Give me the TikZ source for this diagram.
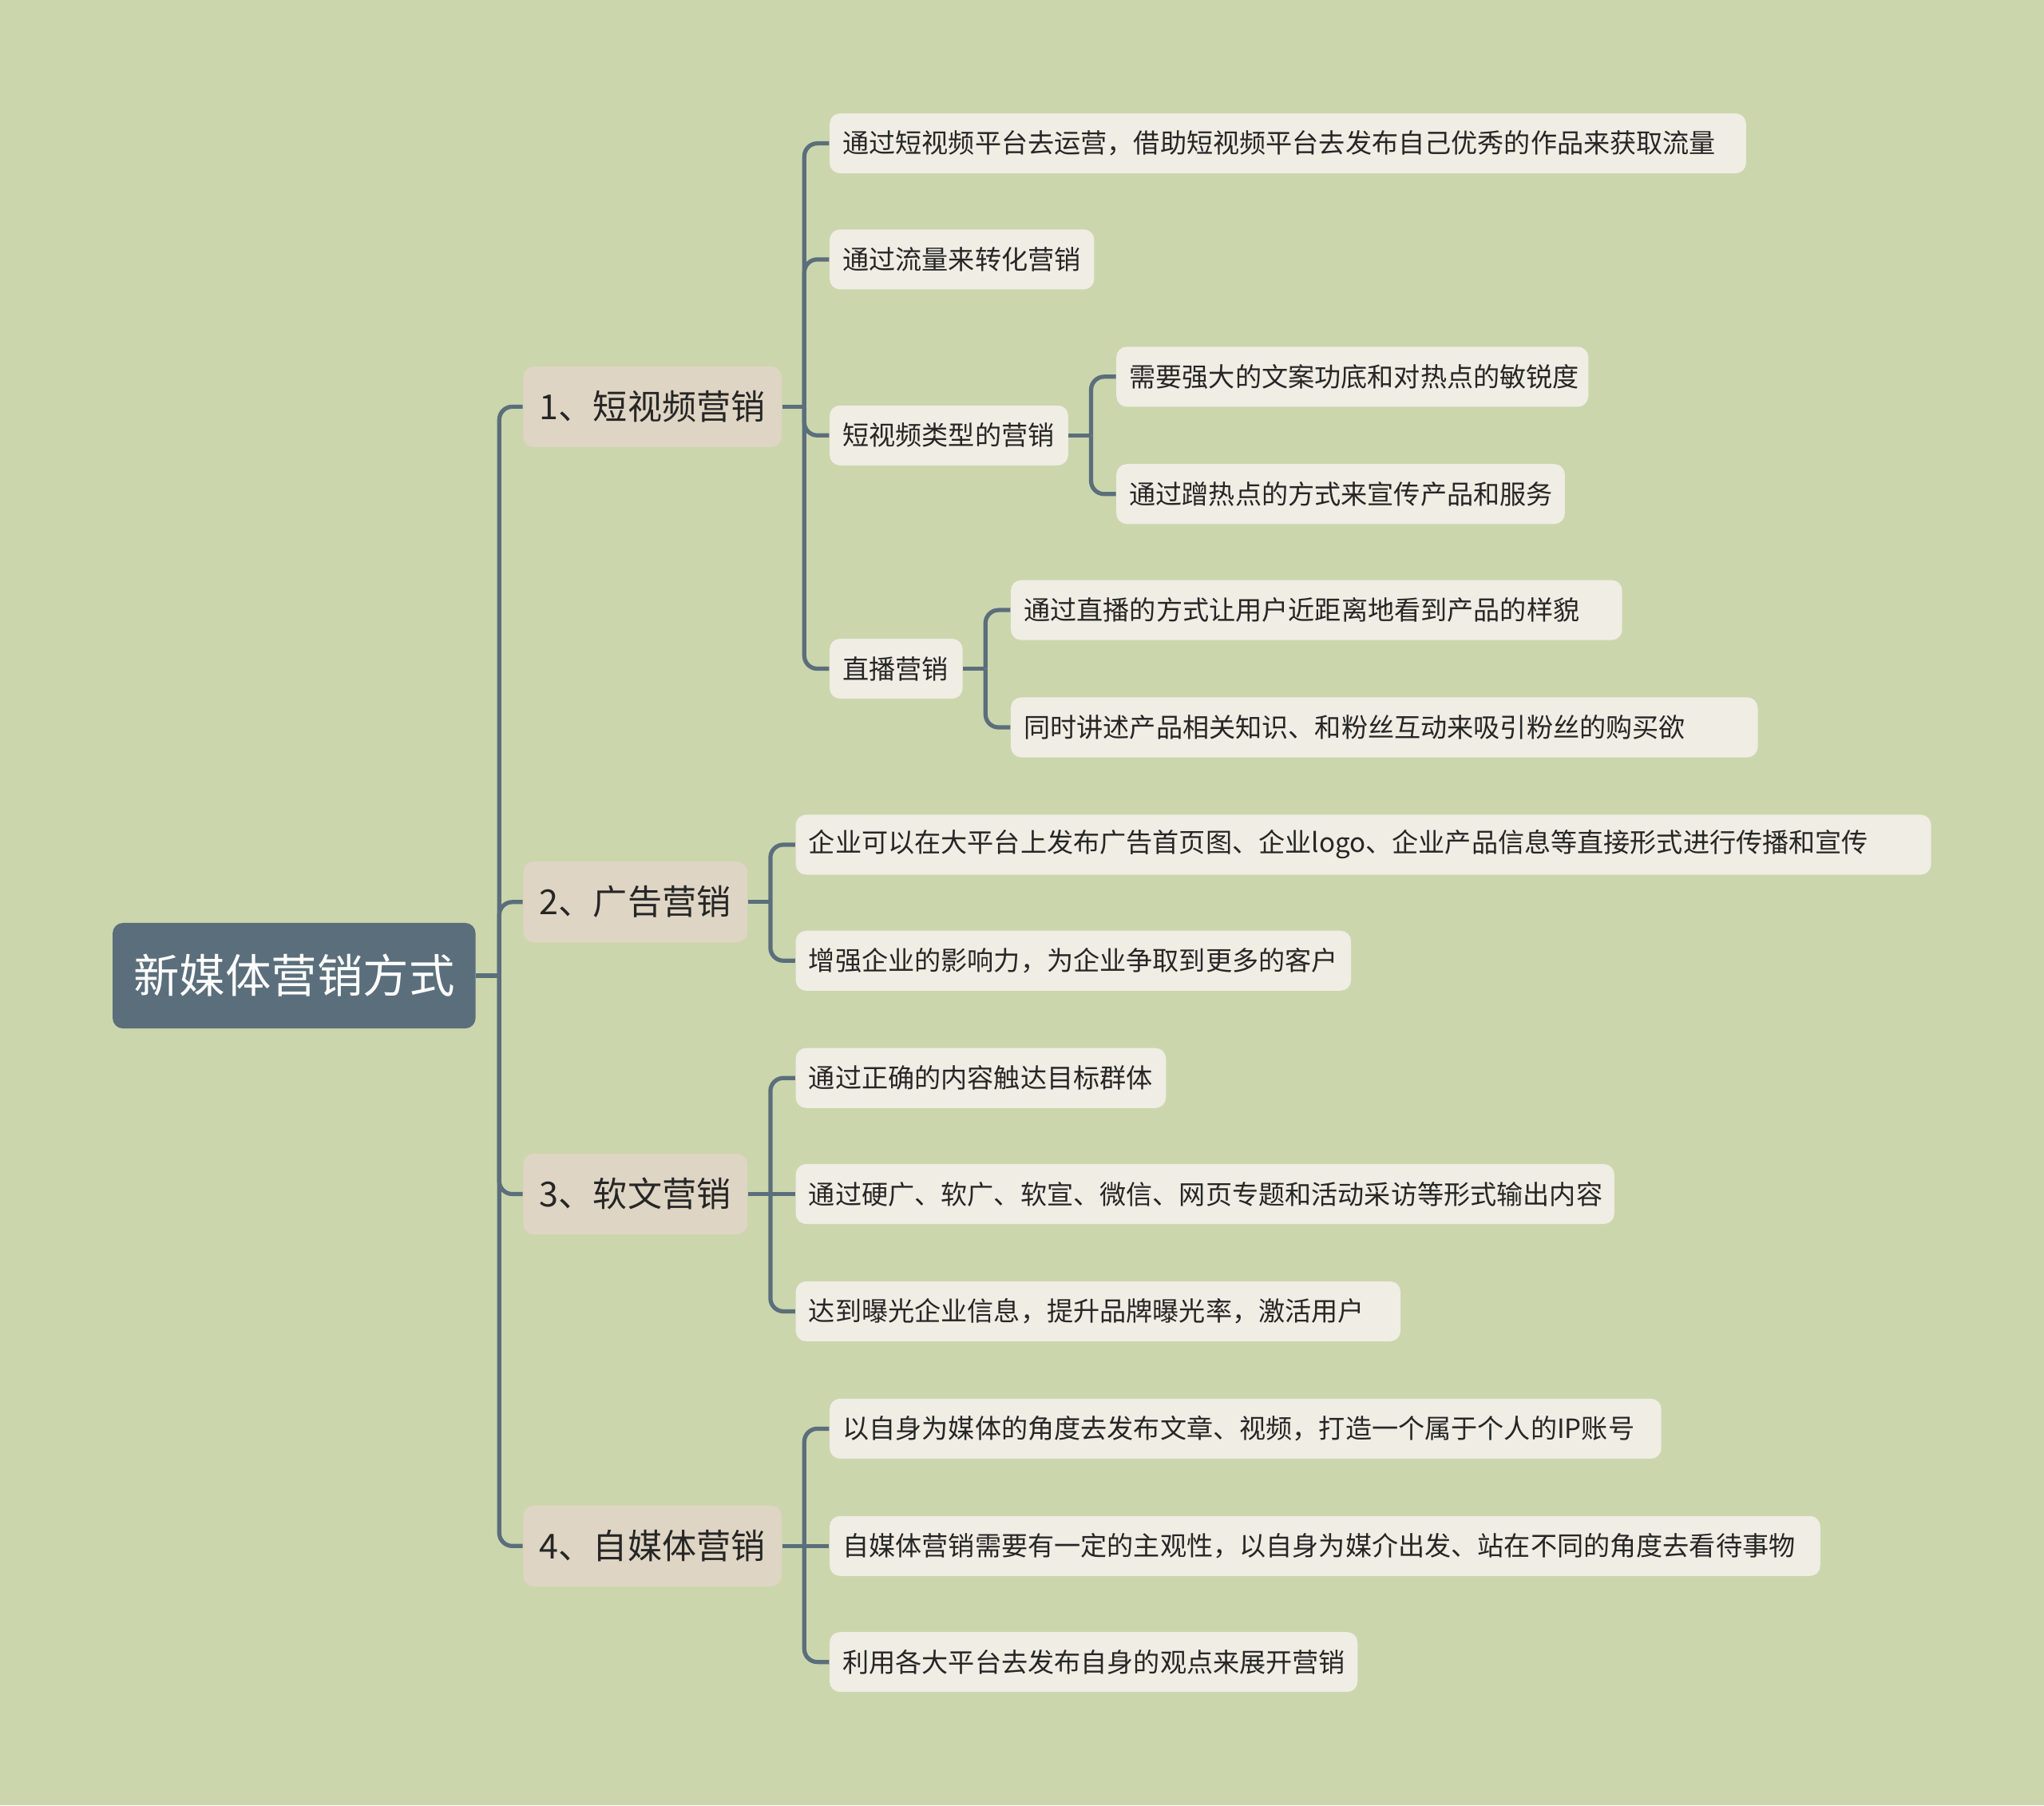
\documentclass[tikz,border=0pt]{standalone}
\usepackage{fontspec}
\setmainfont{Noto Sans CJK SC}
\usepackage{xcolor}

\definecolor{bgcol}{HTML}{CBD6AD}
\definecolor{rootcol}{HTML}{5B6E7B}
\definecolor{branchcol}{HTML}{DFD5C4}
\definecolor{leafcol}{HTML}{F0EDE4}
\definecolor{txtcol}{HTML}{262626}

\tikzset{
  rootbox/.style={fill=rootcol, text=white, rounded corners=4pt, anchor=west,
    minimum height=40.5pt, inner xsep=8pt, font=\fontsize{17.6}{20}\selectfont},
  branchbox/.style={fill=branchcol, text=txtcol, rounded corners=4pt, anchor=west,
    minimum height=31pt, inner xsep=6.3pt, font=\fontsize{13.2}{16}\selectfont},
  leafbox/.style={fill=leafcol, text=txtcol, rounded corners=4pt, anchor=west,
    minimum height=23pt, inner xsep=5pt, text width=#1, align=left,
    font=\fontsize{10.15}{12}\selectfont},
  link/.style={draw=rootcol, line width=1.6pt, rounded corners=5pt},
}

\begin{document}
\begin{tikzpicture}[x=0.5pt,y=-0.5pt]
    % Background
    \fill[bgcol] (0,0) rectangle (1568,1385);
    \useasboundingbox (0,0) rectangle (1568,1385);

    % Root and main branches
    \node[rootbox] (root) at (86,748.5) {新媒体营销方式};
    \node[branchbox] (b1) at (401,312) {1、短视频营销};
    \node[branchbox] (b2) at (401,692) {2、广告营销};
    \node[branchbox] (b3) at (401,916) {3、软文营销};
    \node[branchbox] (b4) at (401,1186) {4、自媒体营销};

    % Branch 1
    \node[leafbox=341.5pt] (l1) at (636,110) {通过短视频平台去运营，借助短视频平台去发布自己优秀的作品来获取流量};
    \node[leafbox=91.5pt] (l2) at (636,199) {通过流量来转化营销};
    \node[leafbox=81.5pt] (l3) at (636,334) {短视频类型的营销};
    \node[leafbox=41pt] (l4) at (636,513) {直播营销};
    \node[leafbox=171pt] (l3a) at (856,289) {需要强大的文案功底和对热点的敏锐度};
    \node[leafbox=162pt] (l3b) at (856,379) {通过蹭热点的方式来宣传产品和服务};
    \node[leafbox=224.5pt] (l4a) at (775,468) {通过直播的方式让用户近距离地看到产品的样貌};
    \node[leafbox=276.5pt] (l4b) at (775,558) {同时讲述产品相关知识、和粉丝互动来吸引粉丝的购买欲};

    % Branch 2
    \node[leafbox=425.5pt] (l5) at (610,648) {企业可以在大平台上发布广告首页图、企业logo、企业产品信息等直接形式进行传播和宣传};
    \node[leafbox=203pt] (l6) at (610,737) {增强企业的影响力，为企业争取到更多的客户};

    % Branch 3
    \node[leafbox=132pt] (l7) at (610,827) {通过正确的内容触达目标群体};
    \node[leafbox=304pt] (l8) at (610,916) {通过硬广、软广、软宣、微信、网页专题和活动采访等形式输出内容};
    \node[leafbox=222pt] (l9) at (610,1006) {达到曝光企业信息，提升品牌曝光率，激活用户};

    % Branch 4
    \node[leafbox=309pt] (l10) at (636,1096) {以自身为媒体的角度去发布文章、视频，打造一个属于个人的IP账号};
    \node[leafbox=370pt] (l11) at (636,1186) {自媒体营销需要有一定的主观性，以自身为媒介出发、站在不同的角度去看待事物};
    \node[leafbox=192.5pt] (l12) at (636,1275) {利用各大平台去发布自身的观点来展开营销};

    % Trunks
    \coordinate (t0) at (383,748.5);
    \coordinate (t1) at (617,312);
    \coordinate (t2) at (591,692);
    \coordinate (t3) at (591,916);
    \coordinate (t4) at (617,1186);
    \coordinate (t13) at (837,334);
    \coordinate (t14) at (756,513);

    % Connectors
    \draw[link] (root.east) -- (t0);
    \foreach \c in {b1,b2,b3,b4}
        \draw[link] (t0) |- (\c.west);

    \draw[link] (b1.east) -- (t1);
    \foreach \c in {l1,l2,l3,l4}
        \draw[link] (t1) |- (\c.west);
    \draw[link] (l3.east) -- (t13);
    \foreach \c in {l3a,l3b}
        \draw[link] (t13) |- (\c.west);
    \draw[link] (l4.east) -- (t14);
    \foreach \c in {l4a,l4b}
        \draw[link] (t14) |- (\c.west);

    \draw[link] (b2.east) -- (t2);
    \foreach \c in {l5,l6}
        \draw[link] (t2) |- (\c.west);

    \draw[link] (b3.east) -- (t3) -- (l8.west);
    \foreach \c in {l7,l9}
        \draw[link] (t3) |- (\c.west);

    \draw[link] (b4.east) -- (t4) -- (l11.west);
    \foreach \c in {l10,l12}
        \draw[link] (t4) |- (\c.west);

\end{tikzpicture}
\end{document}
